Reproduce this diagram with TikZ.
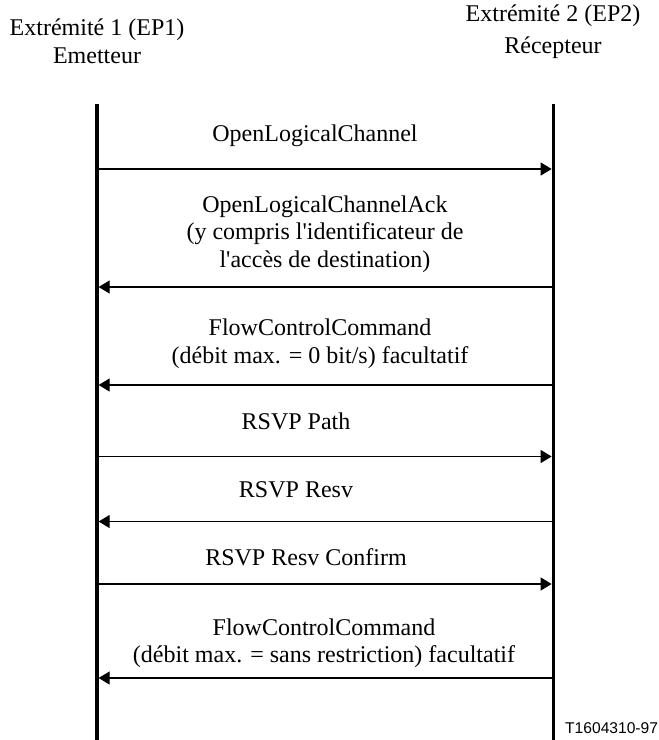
\documentclass[tikz,border=0pt]{standalone}
\usepackage{fontspec}
\setmainfont{Liberation Serif}
\newfontfamily\figsans{Liberation Sans}
\usepackage{tikz}
\usetikzlibrary{arrows.meta,positioning}
\tikzset{
  party/.style={align=center,anchor=base,inner sep=0pt,
    font=\fontsize{24}{28}\selectfont},
  lifeline/.style={draw=black,line width=3.3pt},
  msg/.style={-{Triangle[length=11pt,width=13pt]},draw=black,line width=1.3pt,
    shorten >=1.65pt},
  msglabel/.style={align=center,anchor=base,inner sep=0pt,
    font=\fontsize{24}{27.5}\selectfont},
  figref/.style={anchor=base west,inner sep=0pt,font=\figsans\fontsize{15.6}{18}\selectfont}
}

\begin{document}
\begin{tikzpicture}[x=1pt,y=-1pt]
  \useasboundingbox (0,0) rectangle (659,740);
  % extremites
  \node[party] (ep1) at (97,63) {Extrémité 1 (EP1)\\Emetteur};
  \node[party] (ep2) at (553,53.3) {Extrémité 2 (EP2)\\[3.5pt]Récepteur};
  \coordinate (ep1top) at (97,104);
  \coordinate (ep1bot) at (97,740);
  \coordinate (ep2top) at (553.3,104);
  \coordinate (ep2bot) at (553.3,740);
  \draw[lifeline] (ep1top) -- (ep1bot);
  \draw[lifeline] (ep2top) -- (ep2bot);

  % points des messages
  \coordinate (a1) at (97,169);    \coordinate (b1) at (553.3,169);
  \coordinate (a2) at (97,287);    \coordinate (b2) at (553.3,287);
  \coordinate (a3) at (97,385);    \coordinate (b3) at (553.3,385);
  \coordinate (a4) at (97,456.5);  \coordinate (b4) at (553.3,456.5);
  \coordinate (a5) at (97,521.5);  \coordinate (b5) at (553.3,521.5);
  \coordinate (a6) at (97,584);    \coordinate (b6) at (553.3,584);
  \coordinate (a7) at (97,678);    \coordinate (b7) at (553.3,678);

  % libelles (base = derniere ligne)
  \node[msglabel] (olc) at (315,141) {OpenLogicalChannel};
  \node[msglabel] (olcack) at (325,267) {OpenLogicalChannelAck\\(y compris l\textquotesingle identificateur de\\l\textquotesingle accès de destination)};
  \node[msglabel] (fcc1) at (320,363) {FlowControlCommand\\(débit max. = 0 bit/s) facultatif};
  \node[msglabel] (path) at (296,429) {RSVP Path};
  \node[msglabel] (resv) at (296,497) {RSVP Resv};
  \node[msglabel] (conf) at (306,565) {RSVP Resv Confirm};
  \node[msglabel] (fcc2) at (324,662.7) {FlowControlCommand\\(débit max. = sans restriction) facultatif};

  % messages
  \draw[msg] (a1) -- (b1);
  \draw[msg] (b2) -- (a2);
  \draw[msg] (b3) -- (a3);
  \draw[msg] (a4) -- (b4);
  \draw[msg] (b5) -- (a5);
  \draw[msg] (a6) -- (b6);
  \draw[msg] (b7) -- (a7);

  \node[figref] (ref) at (565,733) {T1604310-97};
\end{tikzpicture}
\end{document}
